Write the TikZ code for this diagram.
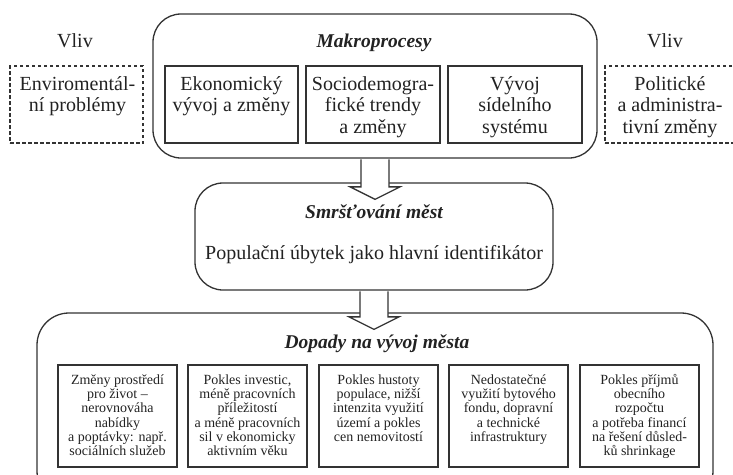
\documentclass[tikz,border=0pt]{standalone}
\usepackage{fontspec}
\setmainfont{Liberation Serif}
\usetikzlibrary{calc}
\definecolor{ln}{HTML}{333333}
\definecolor{tx}{HTML}{222222}
\tikzset{
  big/.style={font=\fontsize{20}{21.5}\selectfont, text=tx, inner sep=0pt, align=center},
  small/.style={font=\fontsize{14}{14.3}\selectfont, text=tx, inner sep=0pt, align=center},
  headtxt/.style={font=\fontsize{19.5}{22}\selectfont\bfseries\itshape, text=tx, inner sep=0pt},
  sbox/.style={draw=ln, line width=1.3pt, inner sep=0pt},
  dbox/.style={draw=ln, line width=1.3pt, inner sep=0pt, dash pattern=on 3.5pt off 2.5pt},
  rbox/.style={draw=ln, line width=1.3pt, inner sep=0pt, rounded corners=28pt},
  hollow/.style={draw=ln, line width=1.3pt, fill=white, line join=miter},
}
\newcommand\hollowarr[2]{%
  \path[hollow] let \p1=(#1), \p2=(#2) in
    (\x1-14pt,\y1-0.7pt) -- (\x1-14pt,\y2-4.5pt) -- (\x1-25pt,\y2-4.5pt) -- (\x1,\y2-17pt)
    -- (\x1+25pt,\y2-4.5pt) -- (\x1+14pt,\y2-4.5pt) -- (\x1+14pt,\y1-0.7pt);
}
\begin{document}
\begin{tikzpicture}[x=1pt,y=-1pt]
\useasboundingbox (0,0) rectangle (733,474);
\clip (0,0) rectangle (733,474);
% top row
\node[dbox, minimum width=133pt, minimum height=77pt] (env) at (76.5,104.5) {};
\node[dbox, minimum width=133pt, minimum height=77pt] (pol) at (671.5,104.5) {};
\node[rbox, minimum width=444pt, minimum height=144pt] (makro) at (375,86) {};
\node[sbox, minimum width=133pt, minimum height=77pt] (eko) at (231.5,104.5) {};
\node[sbox, minimum width=134pt, minimum height=77pt] (socio) at (373,104.5) {};
\node[sbox, minimum width=134pt, minimum height=77pt] (vyv) at (515,104.5) {};
% middle
\node[rbox, minimum width=358pt, minimum height=107pt] (smrs) at (374,236.5) {};
% bottom
\node[rbox, rounded corners=32pt, minimum width=676pt, minimum height=190pt] (dop) at (375,408) {};
\node[sbox, minimum width=119pt, minimum height=102pt] (b1) at (117.5,416) {};
\node[sbox, minimum width=119pt, minimum height=102pt] (b2) at (247.5,416) {};
\node[sbox, minimum width=119pt, minimum height=102pt] (b3) at (378.5,416) {};
\node[sbox, minimum width=119pt, minimum height=102pt] (b4) at (508.5,416) {};
\node[sbox, minimum width=119pt, minimum height=102pt] (b5) at (639.5,416) {};
% hollow arrows
\hollowarr{makro.south}{smrs.north}
\hollowarr{smrs.south}{dop.north}
% texts
\node[big, anchor=base] (vl) at (75,47) {Vliv};
\node[big, anchor=base] (vr) at (665,47) {Vliv};
\node[headtxt, anchor=base] (mt) at (374,47) {Makroprocesy};
\node[big, anchor=north] (envt) at (77.5,75) {\strut Enviromentál-\\ní problémy};
\node[big, anchor=north] (polt) at (670,75) {\strut Politické\\a administra-\\tivní změny};
\node[big, anchor=north] (ekot) at (231.5,75) {\strut Ekonomický\\vývoj a změny};
\node[big, anchor=north] (sociot) at (373,75) {\strut Sociodemogra-\\fické trendy\\a změny};
\node[big, anchor=north] (vyvt) at (515,75) {\strut Vývoj\\sídelního\\systému};
\node[headtxt, anchor=base] (st) at (374,218) {Smršťování měst};
\node[big, anchor=base] (pt) at (374,259) {Populační úbytek jako hlavní identifikátor};
\node[headtxt, anchor=base] (dt) at (377,348) {Dopady na vývoj města};
\node[small, anchor=north] (b1t) at (117.5,374) {\strut Změny prostředí\\pro život --\\nerovnováha\\nabídky\\a poptávky: např.\\sociálních služeb};
\node[small, anchor=north] (b2t) at (247.5,374) {\strut Pokles investic,\\méně pracovních\\příležitostí\\a méně pracovních\\sil v ekonomicky\\aktivním věku};
\node[small, anchor=north] (b3t) at (378.5,374) {\strut Pokles hustoty\\populace, nižší\\intenzita využití\\území a pokles\\cen nemovitostí};
\node[small, anchor=north] (b4t) at (508.5,374) {\strut Nedostatečné\\využití bytového\\fondu, dopravní\\a technické\\infrastruktury};
\node[small, anchor=north] (b5t) at (639.5,374) {\strut Pokles příjmů\\obecního\\rozpočtu\\a potřeba financí\\na řešení důsled-\\ků shrinkage};
\end{tikzpicture}
\end{document}
